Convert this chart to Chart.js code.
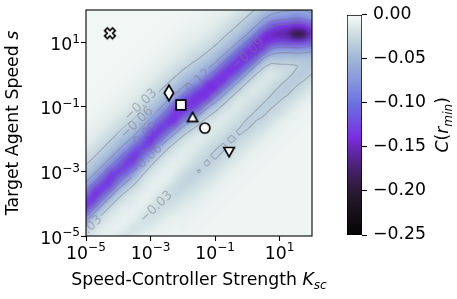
<!DOCTYPE html>
<html>
<head>
<meta charset="utf-8">
<script src="https://cdn.jsdelivr.net/npm/chart.js@4.4.1/dist/chart.umd.min.js"></script>
<style>
  body { margin: 0; background: #fff; }
  #wrap { position: relative; width: 457px; height: 299px; }
  #wrap canvas { position: absolute; left: 0; top: 0; }
</style>
</head>
<body>
<div id="wrap">
  <canvas id="chart" width="457" height="299"></canvas>
  <canvas id="cbar" width="457" height="299"></canvas>
</div>
<script>
// grid nodes, log10 of Ksc (columns) and of s (rows, top to bottom)
const logK = [-5, -4.75, -4.5, -4.25, -4, -3.75, -3.5, -3.25, -3, -2.75, -2.5, -2.25, -2, -1.75, -1.5,
  -1.25, -1, -0.75, -0.5, -0.25, 0, 0.25, 0.5, 0.75, 1, 1.25, 1.5, 1.75, 2];
const logS = [2, 1.75, 1.5, 1.25, 1, 0.75, 0.5, 0.25, 0, -0.25, -0.5, -0.75, -1, -1.25, -1.5,
  -1.75, -2, -2.25, -2.5, -2.75, -3, -3.25, -3.5, -3.75, -4, -4.25, -4.5, -4.75, -5];

// -C(r_min) in hundredths, one list per Ksc column, s from 1e2 down to 1e-5
const cPct = [
  [.3,.3,.3,.3,.3,.3,.3,.3,.3,.3,.3,.4,.4,.5,.6,.8,1,1.4,2,2.8,3.8,5.2,7.5,11.5,13.5,11.5,6.5,3.5,2],
  [.3,.3,.3,.3,.3,.3,.3,.3,.3,.3,.4,.4,.5,.6,.8,1,1.4,2,2.8,3.8,5.2,7.5,12,14,12,6.5,3.5,2,1.3],
  [.3,.3,.3,.3,.3,.3,.3,.3,.3,.4,.4,.5,.6,.8,1,1.4,2,2.8,3.8,5.2,7.5,11.5,13.5,11.5,6.5,3.5,2,1.3,1],
  [.3,.3,.3,.3,.3,.3,.3,.3,.4,.4,.5,.6,.8,1,1.4,2,2.8,3.8,5.2,7.5,12,14,12,6.5,3.5,2,1.3,1,.8],
  [.3,.3,.3,.3,.3,.3,.3,.4,.4,.5,.6,.8,1,1.4,2,2.8,3.8,5.2,7.5,11,13,11,6.5,3.5,2,1.3,1,.8,1.4],
  [.3,.3,.3,.3,.3,.3,.4,.4,.5,.6,.8,1,1.4,1.9,2.7,3.7,5,7.3,11.1,13.3,11.7,7,3.8,2.1,1.4,1,.8,1.3,1.9],
  [.3,.3,.3,.3,.3,.4,.4,.5,.6,.8,1,1.3,1.9,2.6,3.6,4.9,7,11.1,13.6,12.4,7.6,4.1,2.3,1.4,1.1,.8,1.3,1.9,1.5],
  [.3,.3,.3,.3,.4,.4,.5,.6,.8,1,1.4,1.9,2.7,3.7,5,7.3,10.7,12.8,11.2,7,3.8,2.1,1.4,1,.8,1.3,1.9,1.6,1],
  [.3,.3,.3,.4,.4,.5,.6,.8,1,1.4,2,2.8,3.8,5.2,7.5,12,14,12,6.5,3.5,2,1.3,1,.9,1.5,2.1,1.9,1.3,.8],
  [.3,.3,.4,.4,.5,.6,.8,1,1.4,2,2.8,3.8,5.2,7.5,11.5,13.5,11.5,6.5,3.5,2,1.3,1,1,1.7,2.3,2.2,1.5,.9,.7],
  [.3,.4,.4,.5,.6,.8,1,1.4,2,2.8,3.8,5.2,7.5,11.5,13.5,11.5,6.5,3.5,2,1.3,1,1,1.7,2.3,2.3,1.7,1,.7,.6],
  [.4,.4,.5,.6,.8,1,1.4,1.9,2.7,3.7,5,7.3,12.4,13.9,13.1,7.2,3.8,2.1,1.4,1,1.2,1.8,2.6,2.6,1.9,1.3,.8,.6,.6],
  [.4,.5,.6,.8,1,1.3,1.8,2.6,3.6,4.9,7,11.5,13.3,12.7,7.7,4.1,2.3,1.4,1.1,1.4,2,2.7,2.8,2.1,1.5,1,.8,.7,.6],
  [.5,.6,.7,.9,1.2,1.7,2.4,3.3,4.5,6.4,10.2,13.5,13.5,9.8,5,2.8,1.6,1.2,1.5,2,2.7,2.9,2.3,1.7,1.2,.8,.7,.6,.6],
  [.6,.6,.8,1.1,1.5,2.2,3,4.1,5.7,8.6,13.2,13.8,11.7,5.9,3.2,1.9,1.2,1.5,2.1,2.7,3.1,2.5,1.8,1.3,.9,.7,.6,.6,.5],
  [.6,.8,1,1.4,2,2.8,3.8,5.2,7.5,13,14,13,6.5,3.5,2,1.3,1.6,2.1,2.8,3.2,2.6,1.9,1.4,.9,.7,.6,.6,.5,.5],
  [.8,1,1.3,1.9,2.6,3.6,4.9,7,11.9,13.8,13.2,7.8,4.1,2.3,1.4,1.5,2.1,2.8,3.3,2.7,2,1.5,.9,.7,.6,.6,.5,.5,.5],
  [.9,1.3,1.8,2.6,3.5,4.8,6.8,11.4,13.7,13.3,8.5,4.4,2.5,1.5,1.5,2,2.7,3.3,2.7,2,1.5,.9,.7,.6,.6,.5,.5,.5,.5],
  [1.2,1.8,2.5,3.4,4.6,6.6,10.8,13.6,13.4,9.1,4.7,2.6,1.6,1.5,2,2.7,3.3,2.7,2,1.5,.9,.7,.6,.6,.5,.5,.5,.5,.5],
  [1.7,2.4,3.3,4.5,6.4,10.2,13.5,13.5,9.8,5,2.8,1.6,1.5,2,2.6,3.2,2.8,2,1.5,1,.7,.6,.6,.5,.5,.5,.5,.5,.5],
  [2.3,3.2,4.4,6.1,9.7,13.4,13.6,10.4,5.3,2.9,1.7,1.6,2.1,2.7,3.4,2.9,2.2,1.6,1,.7,.6,.6,.5,.5,.5,.5,.5,.5,.5],
  [3.1,4.2,5.9,9.2,13.8,14.2,11.5,5.6,3,1.8,1.5,2,2.7,3.3,2.9,2.2,1.7,1,.7,.6,.6,.5,.5,.5,.5,.5,.5,.5,.5],
  [4.1,5.7,8.7,13.7,14.3,12,5.9,3.2,1.9,1.5,2,2.7,3.3,3.1,2.4,1.8,1.1,.8,.6,.6,.5,.5,.5,.5,.5,.5,.5,.5,.5],
  [4.9,7,11.9,14.6,13.4,7.8,4.1,2.3,1.5,2,2.7,3.3,3.1,2.4,1.8,1.1,.8,.6,.6,.5,.5,.5,.5,.5,.5,.5,.5,.5,.5],
  [5.4,7.8,13.2,15.3,12.4,6.8,4.2,2.5,2,2.7,3.4,3.2,2.5,1.9,1.1,.8,.6,.6,.5,.5,.5,.5,.5,.5,.5,.5,.5,.5,.5],
  [5.6,8.2,13.5,16.2,12.5,6.8,4,2.6,2.6,3.4,3.4,2.6,1.9,1.2,.8,.6,.6,.5,.5,.5,.5,.5,.5,.5,.5,.5,.5,.5,.5],
  [6,8.8,14.5,19.5,13,7,4.2,2.8,3.4,3.4,2.6,1.9,1.2,.8,.6,.6,.5,.5,.5,.5,.5,.5,.5,.5,.5,.5,.5,.5,.5],
  [5.8,8.5,14,18.5,12.5,6.8,4.2,3.5,3.6,2.8,2,1.3,.8,.6,.6,.5,.5,.5,.5,.5,.5,.5,.5,.5,.5,.5,.5,.5,.5],
  [5,7.5,12,14,11,6.5,4,3.7,2.9,2.1,1.4,.9,.6,.6,.5,.5,.5,.5,.5,.5,.5,.5,.5,.5,.5,.5,.5,.5,.5]
];

// special points
const markerK = [5.5e-5, 3.7e-3, 8.7e-3, 0.020, 0.048, 0.27];
const markerS = [19, 0.27, 0.115, 0.048, 0.022, 0.004];
const markerShape = ['xfill', 'thinDiamond', 'square', 'triUp', 'circle', 'triDown'];

const axisTicks = [1e-5, 1e-3, 1e-1, 1e1];
const contourLevels = [-0.03, -0.06, -0.09, -0.12];
// where the contour labels sit: level, Ksc, s
const contourLabelSpots = [
  [-0.03, 5.0e-4, 0.115],
  [-0.06, 3.8e-4, 0.032],
  [-0.09, 5.4e-4, 0.0107],
  [-0.06, 7.2e-4, 0.0022],
  [-0.12, 0.023, 0.48],
  [-0.09, 1.05, 4.3],
  [-0.03, 1.0e-5, 1.4e-5],
  [-0.03, 1.5e-3, 7.9e-5]
];
const cbarMin = -0.25, cbarMax = 0;

// colormap, positions in hundredths of -C
const cmapAt = [0, 1, 2.5, 5, 7.5, 10, 11.5, 13, 14, 15, 17.5, 20, 22.5, 25];
const cmapRGB = [[247,251,249],[228,238,237],[200,217,223],[160,182,216],[136,150,222],[108,114,224],
  [112,90,226],[118,62,226],[122,46,224],[106,40,186],[70,33,108],[42,26,52],[22,16,24],[4,4,4]];

const FONT = 'DejaVu Sans';
const FS = 17.3;
Chart.defaults.font.family = FONT;

function cmap(v) {
  if (v <= cmapAt[0]) return cmapRGB[0];
  for (let k = 1; k < cmapAt.length; k++) {
    if (v <= cmapAt[k]) {
      const f = (v - cmapAt[k - 1]) / (cmapAt[k] - cmapAt[k - 1]);
      return cmapRGB[k].map((c, n) => Math.round(cmapRGB[k - 1][n] + (c - cmapRGB[k - 1][n]) * f));
    }
  }
  return cmapRGB[cmapRGB.length - 1];
}

const kExp = f => logK[0] + f * (logK[1] - logK[0]);
const sExp = f => logS[0] + f * (logS[1] - logS[0]);

function contourSegments(level) {
  const t = -level * 100;
  const segs = [];
  const v = (i, j) => cPct[i][j];
  for (let i = 0; i < logK.length - 1; i++) {
    for (let j = 0; j < logS.length - 1; j++) {
      const a = v(i, j), b = v(i + 1, j), c = v(i + 1, j + 1), d = v(i, j + 1);
      const pts = [];
      const cross = (p, q, i0, j0, i1, j1) => {
        if ((p > t) !== (q > t)) {
          const f = (t - p) / (q - p);
          pts.push([i0 + (i1 - i0) * f, j0 + (j1 - j0) * f]);
        }
      };
      cross(a, b, i, j, i + 1, j);
      cross(b, c, i + 1, j, i + 1, j + 1);
      cross(d, c, i, j + 1, i + 1, j + 1);
      cross(a, d, i, j, i, j + 1);
      if (pts.length === 2) segs.push(pts);
      else if (pts.length === 4) {
        const [T, R, B, L] = pts;
        if (((a + b + c + d) / 4 > t) === (a > t)) segs.push([T, R], [B, L]);
        else segs.push([L, T], [R, B]);
      }
    }
  }
  return segs;
}

// text made of pieces: [text, italic, 'sub' | 'sup']
function drawRich(ctx, parts, x, y, size, align, rotate) {
  ctx.save();
  ctx.translate(x, y);
  if (rotate) ctx.rotate(-Math.PI / 2);
  const fontOf = p => `${p[1] ? 'italic ' : ''}${p[2] ? size * 0.7 : size}px "${FONT}"`;
  let w = 0;
  const widths = parts.map(p => { ctx.font = fontOf(p); const m = ctx.measureText(p[0]).width; w += m; return m; });
  let cx = align === 'center' ? -w / 2 : align === 'right' ? -w : 0;
  ctx.textAlign = 'left';
  ctx.textBaseline = 'alphabetic';
  ctx.fillStyle = '#000';
  parts.forEach((p, k) => {
    ctx.font = fontOf(p);
    const dy = p[2] === 'sub' ? size * 0.22 : p[2] === 'sup' ? -size * 0.42 : 0;
    ctx.fillText(p[0], cx, dy);
    cx += widths[k];
  });
  ctx.restore();
}

function powParts(v) {
  const e = Math.round(Math.log10(v));
  return [['10'], [(e < 0 ? '\u2212' : '') + Math.abs(e), false, 'sup']];
}

function marker(w, h, path) {
  const c = document.createElement('canvas');
  c.width = w; c.height = h;
  const g = c.getContext('2d');
  g.translate(w / 2, h / 2);
  g.beginPath(); path(g); g.closePath();
  g.fillStyle = '#fff'; g.fill();
  g.lineWidth = 1.7; g.strokeStyle = '#000'; g.lineJoin = 'miter';
  g.stroke();
  return c;
}
const poly = pts => g => pts.forEach(([px, py], k) => k ? g.lineTo(px, py) : g.moveTo(px, py));
const xw = 1.9, xl = 5.6;
const xPts = [[xw,xw],[xw,xl],[-xw,xl],[-xw,xw],[-xl,xw],[-xl,-xw],[-xw,-xw],[-xw,-xl],[xw,-xl],[xw,-xw],[xl,-xw],[xl,xw]]
  .map(([a, b]) => [(a - b) / Math.SQRT2, (a + b) / Math.SQRT2]);
const markerImg = {
  square: marker(14, 14, g => g.rect(-4.8, -4.8, 9.6, 9.6)),
  circle: marker(14, 14, g => g.arc(0, 0, 5.0, 0, 2 * Math.PI)),
  triUp: marker(16, 16, poly([[0, -4.8], [-5.0, 4.3], [5.0, 4.3]])),
  triDown: marker(16, 16, poly([[0, 4.8], [-5.2, -4.5], [5.2, -4.5]])),
  thinDiamond: marker(14, 22, poly([[0, -7.8], [4.6, 0], [0, 7.8], [-4.6, 0]])),
  xfill: marker(16, 16, poly(xPts))
};

const heatmap = {
  id: 'heatmap',
  beforeDatasetsDraw(chart) {
    const { ctx, chartArea: a, scales: { x, y } } = chart;
    const nK = logK.length, nS = logS.length;
    const off = document.createElement('canvas');
    off.width = nK; off.height = nS;
    const octx = off.getContext('2d');
    const img = octx.createImageData(nK, nS);
    for (let i = 0; i < nK; i++) {
      for (let j = 0; j < nS; j++) {
        const [r, g, b] = cmap(cPct[i][j]);
        const p = (j * nK + i) * 4;
        img.data[p] = r; img.data[p + 1] = g; img.data[p + 2] = b; img.data[p + 3] = 255;
      }
    }
    octx.putImageData(img, 0, 0);
    const hk = (logK[1] - logK[0]) / 2, hs = (logS[0] - logS[1]) / 2;
    const x0 = x.getPixelForValue(10 ** (logK[0] - hk));
    const x1 = x.getPixelForValue(10 ** (logK[nK - 1] + hk));
    const y0 = y.getPixelForValue(10 ** (logS[0] + hs));
    const y1 = y.getPixelForValue(10 ** (logS[nS - 1] - hs));

    ctx.save();
    ctx.beginPath();
    ctx.rect(a.left, a.top, a.right - a.left, a.bottom - a.top);
    ctx.clip();
    ctx.imageSmoothingEnabled = true;
    ctx.imageSmoothingQuality = 'high';
    ctx.drawImage(off, x0, y0, x1 - x0, y1 - y0);
    ctx.restore();

    // contour labels: boxes cut out of the lines
    ctx.font = `13px "${FONT}"`;
    const ang = -0.76;
    const labels = contourLabelSpots.map(([lv, k, s]) => {
      const text = '\u2212' + Math.abs(lv).toFixed(2);
      return { text, px: x.getPixelForValue(k), py: y.getPixelForValue(s), w: ctx.measureText(text).width + 4, h: 11 };
    });

    ctx.save();
    ctx.beginPath();
    ctx.rect(a.left, a.top, a.right - a.left, a.bottom - a.top);
    labels.forEach(l => {
      const c = Math.cos(ang), s = Math.sin(ang);
      const corners = [[-l.w / 2, -l.h / 2], [l.w / 2, -l.h / 2], [l.w / 2, l.h / 2], [-l.w / 2, l.h / 2]]
        .map(([u, v]) => [l.px + u * c - v * s, l.py + u * s + v * c]);
      corners.forEach(([px, py], n) => n ? ctx.lineTo(px, py) : ctx.moveTo(px, py));
      ctx.closePath();
    });
    ctx.clip('evenodd');
    ctx.strokeStyle = 'rgba(120,118,130,0.45)';
    ctx.lineWidth = 1.1;
    contourLevels.forEach(lv => {
      ctx.beginPath();
      contourSegments(lv).forEach(([p, q]) => {
        ctx.moveTo(x.getPixelForValue(10 ** kExp(p[0])), y.getPixelForValue(10 ** sExp(p[1])));
        ctx.lineTo(x.getPixelForValue(10 ** kExp(q[0])), y.getPixelForValue(10 ** sExp(q[1])));
      });
      ctx.stroke();
    });
    ctx.restore();

    ctx.save();
    ctx.beginPath();
    ctx.rect(a.left, a.top, a.right - a.left, a.bottom - a.top);
    ctx.clip();
    ctx.fillStyle = 'rgba(125,122,135,0.5)';
    ctx.textAlign = 'center';
    ctx.textBaseline = 'middle';
    labels.forEach(l => {
      ctx.save();
      ctx.translate(l.px, l.py);
      ctx.rotate(ang);
      ctx.fillText(l.text, 0, 0);
      ctx.restore();
    });
    ctx.restore();
  },
  afterDraw(chart) {
    const { ctx, chartArea: a, scales: { x, y } } = chart;
    ctx.save();
    ctx.strokeStyle = '#000';
    ctx.lineWidth = 1.1;
    ctx.strokeRect(a.left, a.top, a.right - a.left, a.bottom - a.top);
    ctx.restore();
    axisTicks.forEach(v => {
      drawRich(ctx, powParts(v), x.getPixelForValue(v), 258.5, FS, 'center');
      drawRich(ctx, powParts(v), 80, y.getPixelForValue(v) + 7.5, FS, 'right');
    });
    drawRich(ctx, [['Speed-Controller Strength '], ['K', true], ['sc', true, 'sub']], (a.left + a.right) / 2, 285, FS, 'center');
    drawRich(ctx, [['Target Agent Speed '], ['s', true]], 18, (a.top + a.bottom) / 2, FS, 'center', true);
  }
};

const logAxis = (pos, fit) => ({
  type: 'logarithmic',
  position: pos,
  min: 1e-5,
  max: 1e2,
  afterBuildTicks: s => { s.ticks = axisTicks.map(v => ({ value: v })); },
  afterFit: fit,
  ticks: { display: false },
  grid: { display: true, drawOnChartArea: false, drawTicks: true, tickLength: 5, color: '#000', tickColor: '#000', tickWidth: 1.1 },
  border: { display: false }
});

new Chart(document.getElementById('chart'), {
  type: 'scatter',
  data: {
    datasets: markerK.map((k, i) => ({
      data: [{ x: k, y: markerS[i] }],
      pointStyle: markerImg[markerShape[i]],
      pointRadius: 6
    }))
  },
  options: {
    responsive: false,
    animation: false,
    devicePixelRatio: 1,
    layout: { padding: { left: 0, right: 145, top: 10, bottom: 0 } },
    plugins: { legend: { display: false }, tooltip: { enabled: false } },
    scales: {
      x: logAxis('bottom', s => { s.height = 63; }),
      y: logAxis('left', s => { s.width = 86; })
    }
  },
  plugins: [heatmap]
});

const cbarFill = c => {
  const ch = c.chart;
  if (!ch.chartArea) return '#fff';
  const ys = ch.scales.y;
  const g = ch.ctx.createLinearGradient(0, ys.getPixelForValue(cbarMax), 0, ys.getPixelForValue(cbarMin));
  cmapAt.forEach((v, k) => g.addColorStop(v / 25, `rgb(${cmapRGB[k].join(',')})`));
  return g;
};

const cbarTitle = {
  id: 'cbarTitle',
  afterDraw(chart) {
    const a = chart.chartArea;
    drawRich(chart.ctx, [['C', true], ['('], ['r', true], ['min', true, 'sub'], [')']], 448, (a.top + a.bottom) / 2, FS, 'center', true);
  }
};

new Chart(document.getElementById('cbar'), {
  type: 'bar',
  data: {
    labels: [''],
    datasets: [{
      data: [[cbarMin, cbarMax]],
      backgroundColor: cbarFill,
      borderColor: '#000',
      borderWidth: 1,
      borderSkipped: false,
      barPercentage: 1,
      categoryPercentage: 1
    }]
  },
  options: {
    responsive: false,
    animation: false,
    devicePixelRatio: 1,
    layout: { padding: { left: 347, right: 0, top: 10, bottom: 64 } },
    plugins: { legend: { display: false }, tooltip: { enabled: false } },
    scales: {
      x: { display: false },
      y: {
        position: 'right',
        min: cbarMin,
        max: cbarMax,
        afterFit: s => { s.width = 95; },
        ticks: {
          stepSize: 0.05,
          padding: 6,
          color: '#000',
          font: { family: FONT, size: FS, lineHeight: 1 },
          callback: v => Math.abs(v) < 1e-9 ? '0.00' : '\u2212' + Math.abs(v).toFixed(2)
        },
        grid: { drawOnChartArea: false, drawTicks: true, tickLength: 5, color: '#000', tickColor: '#000', tickWidth: 1.1 },
        border: { display: false }
      }
    }
  },
  plugins: [cbarTitle]
});
</script>
</body>
</html>
